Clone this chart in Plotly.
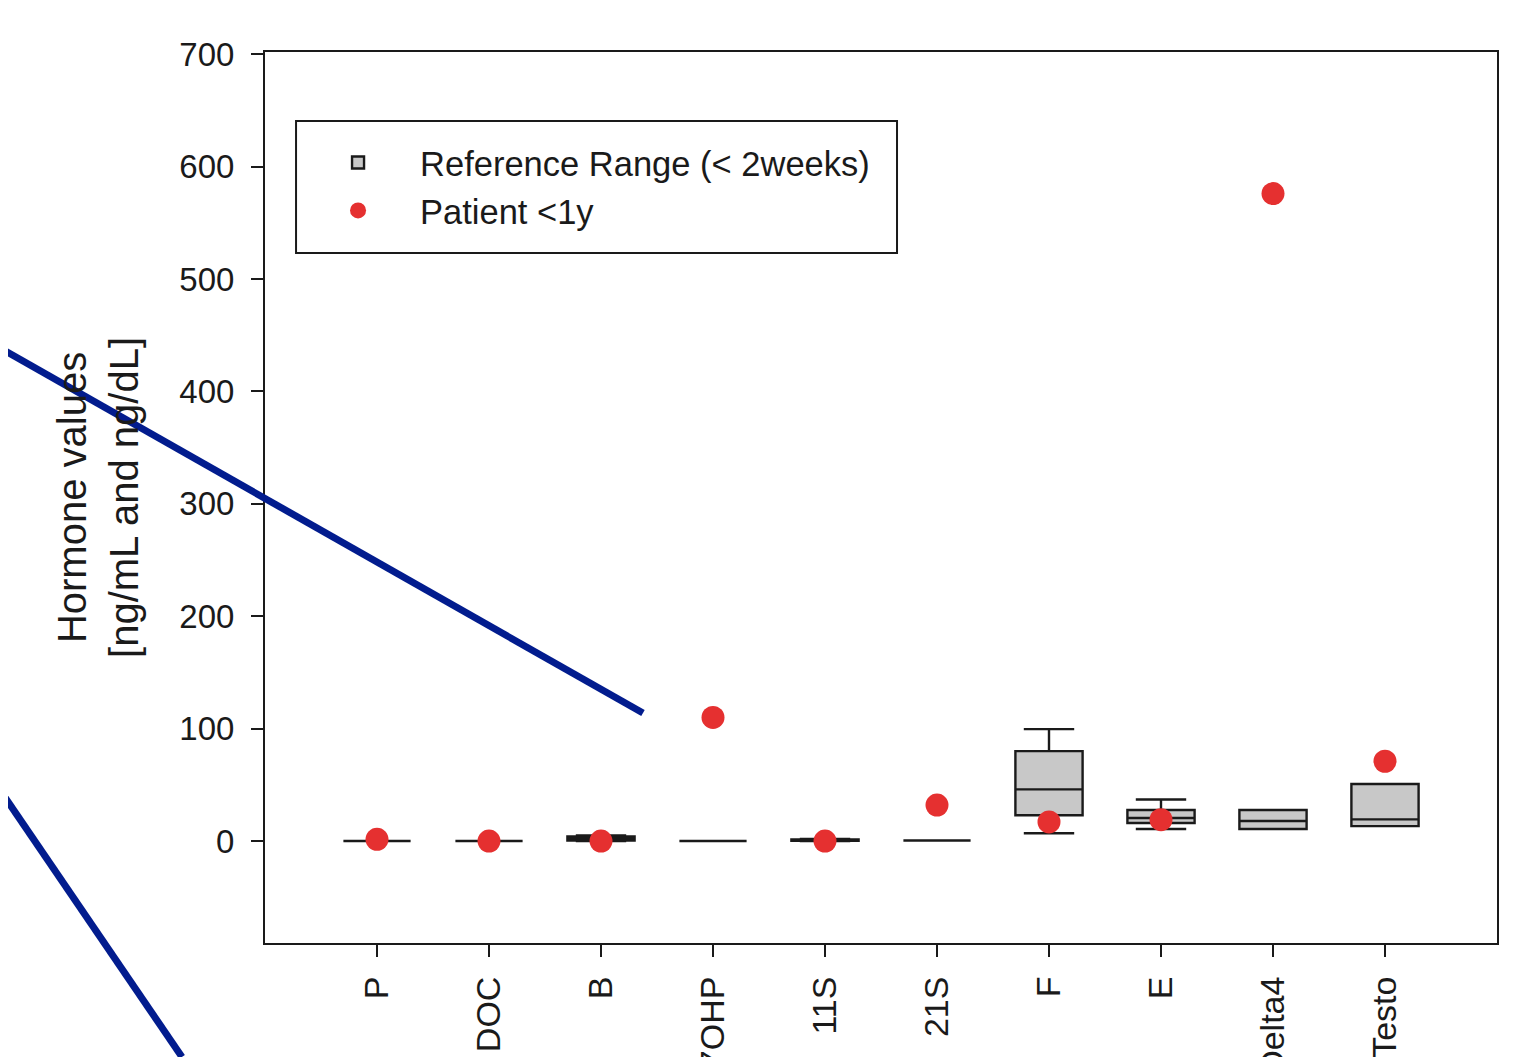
import plotly.graph_objects as go

categories = ["P", "DOC", "B", "17OHP", "11S", "21S", "F", "E", "Delta4", "Testo"]
ref_lower = [0.0, 0.0, 0.0, 0.0, 0.0, 0.5, 7.0, 10.7, 10.7, 13.3]
ref_q1 = [0.0, 0.0, 0.5, 0.0, 0.2, 0.5, 23.0, 16.0, 10.7, 13.3]
ref_median = [0.0, 0.0, 2.0, 0.0, 0.8, 0.5, 46.0, 20.5, 17.8, 19.3]
ref_q3 = [0.0, 0.0, 4.0, 0.0, 1.5, 0.5, 80.0, 27.6, 27.6, 50.7]
ref_upper = [0.0, 0.0, 5.0, 0.0, 1.8, 0.5, 99.6, 37.0, 27.6, 50.7]
patient = [1.5, 0.0, 0.0, 110.0, 0.0, 32.0, 17.0, 19.0, 576.0, 71.0]
y_ticks = [0, 100, 200, 300, 400, 500, 600, 700]

FONT = "Liberation Sans, Arial, sans-serif"
INK = "#1a1a1a"

fig = go.Figure()
fig.add_trace(go.Box(
    x=categories, q1=ref_q1, median=ref_median, q3=ref_q3,
    lowerfence=ref_lower, upperfence=ref_upper,
    name="Reference Range (< 2weeks)",
    fillcolor="#c8c8c8", line=dict(color=INK, width=2.4),
    width=0.6, whiskerwidth=0.75, boxpoints=False,
))
fig.add_trace(go.Scatter(
    x=categories, y=patient, mode="markers", name="Patient <1y",
    marker=dict(color="#e53030", size=23, line=dict(width=0)),
))

# legend frame
fig.add_shape(type="rect", xref="paper", yref="paper", x0=0.0252, y0=0.7744,
              x1=0.513, y1=0.9226, line=dict(color=INK, width=2),
              fillcolor="rgba(0,0,0,0)", layer="below")

# dark-blue overlay strokes present on the reference image
blue = dict(color="#021c8e", width=7)
fig.add_shape(type="line", xref="paper", yref="paper", x0=-0.2151, y0=0.6678,
              x1=0.3068, y1=0.2581, line=blue, layer="above")
fig.add_shape(type="line", xref="paper", yref="paper", x0=-0.2151, y0=0.1717,
              x1=-0.0674, y1=-0.1279, line=blue, layer="above")

fig.update_layout(
    width=1520, height=1049,
    margin=dict(l=257, r=31, t=44, b=114),
    paper_bgcolor="white", plot_bgcolor="white",
    font=dict(family=FONT, size=33, color=INK),
    showlegend=True,
    legend=dict(
        x=0.0252, y=0.9084, xanchor="left", yanchor="top",
        bgcolor="rgba(0,0,0,0)", borderwidth=0,
        font=dict(family=FONT, size=34.5, color=INK),
        itemwidth=114,
    ),
)
fig.update_xaxes(
    type="category", categoryorder="array", categoryarray=categories,
    range=[-1, 10], showgrid=False, zeroline=False, automargin=False,
    showline=True, linecolor=INK, linewidth=2, mirror=True,
    ticks="outside", ticklen=12, tickwidth=2, tickcolor=INK,
    tickangle=-90, tickfont=dict(family=FONT, size=34, color=INK),
    ticklabelstandoff=6,
)
fig.update_yaxes(
    range=[-90.7, 702], tickvals=y_ticks, ticktext=[str(v) for v in y_ticks],
    showgrid=False, zeroline=False, automargin=False,
    showline=True, linecolor=INK, linewidth=2, mirror=True,
    ticks="outside", ticklen=12, tickwidth=2, tickcolor=INK,
    tickfont=dict(family=FONT, size=33, color=INK),
    ticklabelstandoff=10,
    title=dict(text="Hormone values<br>[ng/mL and ng/dL]",
               font=dict(family=FONT, size=40, color=INK), standoff=28),
)

fig.write_html("out.html")
